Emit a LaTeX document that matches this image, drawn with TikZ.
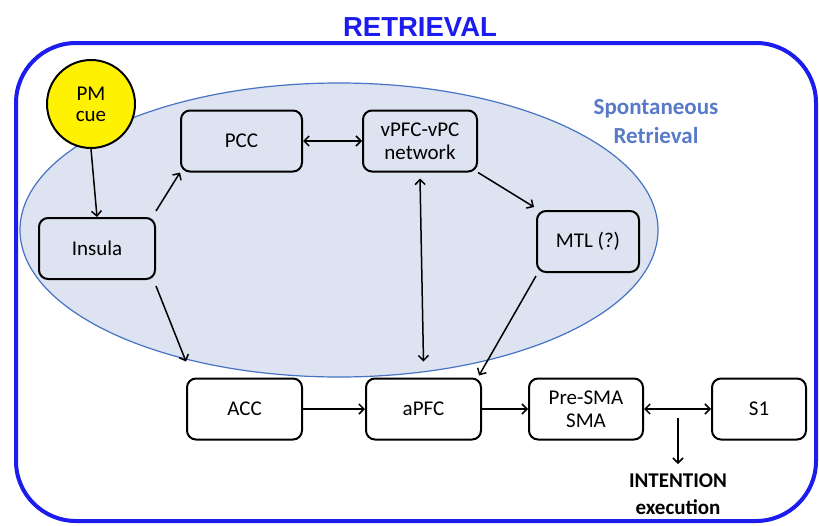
\documentclass[tikz,border=0pt]{standalone}
\usepackage{fontspec}
\setmainfont{Carlito}
\newfontfamily\titlefont{Liberation Sans}
\usetikzlibrary{arrows.meta}
\definecolor{frameblue}{RGB}{28,28,238}
\definecolor{zonefill}{RGB}{221,227,240}
\definecolor{zoneedge}{RGB}{70,115,196}
\definecolor{zonetext}{RGB}{88,122,200}
\begin{document}
\begin{tikzpicture}[x=1pt,y=-1pt,
  region/.style={draw=black,line width=2pt,rounded corners=9pt,minimum width=115pt,minimum height=61pt,align=center,inner sep=0pt,font=\fontsize{21}{23}\selectfont},
  link/.style={line width=1.5pt,-{Straight Barb[length=5pt,width=10pt,line width=1.5pt]}},
  twoway/.style={line width=1.5pt,{Straight Barb[length=5pt,width=10pt,line width=1.5pt]}-{Straight Barb[length=5pt,width=10pt,line width=1.5pt]}}]
\useasboundingbox (0,0) rectangle (819,525);
\fill[white] (0,0) rectangle (819,525);
% outer frame and title
\draw[frameblue,line width=4pt,rounded corners=60pt] (16,43) rectangle (816,521);
\node[frameblue,font=\titlefont\bfseries\fontsize{27.5}{29}\selectfont] (title) at (420,27) {RETRIEVAL};
% spontaneous retrieval zone
\draw[zoneedge,fill=zonefill,line width=1.2pt] (339,230) ellipse [x radius=319pt,y radius=147pt];
\node[zonetext,font=\bfseries\fontsize{23}{29}\selectfont,align=center] (spont) at (656,122) {Spontaneous\\Retrieval};
% cue
\node[circle,draw=black,line width=2pt,fill=yellow,minimum size=88pt,inner sep=0pt,align=center,font=\fontsize{21}{21}\selectfont] (cue) at (91,104) {PM\\cue};
% regions
\node[region,minimum width=121pt] (pcc) at (241.5,141) {PCC};
\node[region,minimum width=114pt] (vpfc) at (420,141) {vPFC-vPC\\network};
\node[region,minimum width=116pt] (insula) at (97,248.5) {Insula};
\node[region,minimum width=102pt] (mtl) at (588,241.5) {MTL (?)};
\node[region] (acc) at (244.5,409) {ACC};
\node[region] (apfc) at (423.5,409) {aPFC};
\node[region,minimum width=114pt] (sma) at (586,409) {Pre-SMA\\SMA};
\node[region,minimum width=94pt] (s1) at (759,409) {S1};
\node[font=\bfseries\fontsize{21}{27}\selectfont,align=center] (exec) at (678,494) {INTENTION\\execution};
% connections
\draw[link] (cue.south) -- (insula.north);
\draw[link] ([shift={(0,-6)}]insula.north east) -- (pcc.south west);
\draw[twoway] (pcc.east) -- (vpfc.west);
\draw[twoway] ([shift={(0,6)}]vpfc.south) -- ([shift={(0,-16)}]apfc.north);
\draw[link] (vpfc.south east) -- ([shift={(-2,-3)}]mtl.north west);
\draw[link] ([shift={(0,3)}]mtl.south west) -- ([shift={(-3,-2)}]apfc.north east);
\draw[link] ([shift={(0,6)}]insula.south east) -- ([shift={(0,-16)}]acc.north west);
\draw[link] (acc.east) -- (apfc.west);
\draw[link] (apfc.east) -- (sma.west);
\draw[twoway] (sma.east) -- (s1.west);
\coordinate (split) at (678,418);
\draw[link] (split) -- ([shift={(0,-6)}]exec.north);
\end{tikzpicture}
\end{document}
